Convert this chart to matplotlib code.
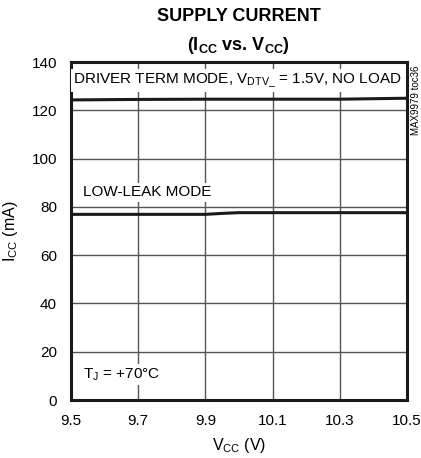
import matplotlib.pyplot as plt

plt.rcParams['font.family'] = ['Liberation Sans', 'DejaVu Sans']

# supply voltage sweep (V) and measured supply current (mA)
vcc = [9.5, 9.7, 9.9, 9.95, 10.0, 10.1, 10.3, 10.5]
icc_driver = [124.3, 124.5, 124.6, 124.6, 124.6, 124.6, 124.6, 125.0]
icc_lowleak = [76.9, 76.9, 76.9, 77.3, 77.6, 77.6, 77.6, 77.6]

xticks = [9.5, 9.7, 9.9, 10.1, 10.3, 10.5]
yticks = [0, 20, 40, 60, 80, 100, 120, 140]

fig = plt.figure(figsize=(4.21, 4.58), dpi=100)
ax = fig.add_axes([0.1686, 0.1266, 0.7981, 0.738])

ax.plot(vcc, icc_driver, color='#1a1a1a', lw=2.2, zorder=3)
ax.plot(vcc, icc_lowleak, color='#1a1a1a', lw=2.2, zorder=3)

ax.set_xlim(9.5, 10.5)
ax.set_ylim(0, 140)
ax.set_xticks(xticks)
ax.set_xticklabels(['9.5', '9.7', '9.9', '10.1', '10.3', '10.5'])
ax.set_yticks(yticks)
ax.tick_params(length=0, labelsize=11)
ax.tick_params(axis='x', pad=10)
ax.tick_params(axis='y', pad=10)
ax.grid(True, color='#555555', lw=1.0)
for s in ax.spines.values():
    s.set_linewidth(2.2)
    s.set_color('#1a1a1a')

ax.set_xlabel(r'V$_{\mathregular{CC}}$ (V)', fontsize=11.5, labelpad=6)
ax.set_ylabel(r'I$_{\mathregular{CC}}$ (mA)', fontsize=11.5, labelpad=8)

fig.text(0.567, 0.963, 'SUPPLY CURRENT', ha='center', va='center',
         fontsize=13, fontweight='bold')
fig.text(0.567, 0.900, r'(I$_{\mathregular{CC}}$ vs. V$_{\mathregular{CC}}$)',
         ha='center', va='center', fontsize=13, fontweight='bold')

box = dict(facecolor='white', edgecolor='none', pad=1.5)
ax.text(9.507, 132.3, r'DRIVER TERM MODE, V$_{\mathregular{DTV\_}}$ = 1.5V, NO LOAD',
        fontsize=11, va='center', ha='left', bbox=box, zorder=4)
ax.text(9.536, 86.0, 'LOW-LEAK MODE', fontsize=11, va='center', ha='left',
        bbox=box, zorder=4)
ax.text(9.536, 10.4, r'T$_{\mathregular{J}}$ = +70°C', fontsize=11, va='center',
        ha='left', bbox=box, zorder=4)

fig.text(0.988, 0.858, 'MAX9979 toc36', rotation=90, ha='center', va='top',
         fontsize=7)

fig.savefig('out.png', dpi=100)
